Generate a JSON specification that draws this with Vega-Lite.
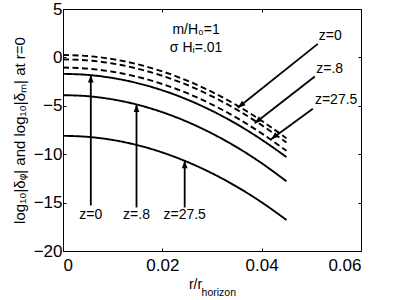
{
  "$schema": "https://vega.github.io/schema/vega-lite/v6.json",
  "width": 298,
  "height": 242,
  "autosize": {"type": "none"},
  "padding": {"left": 63, "top": 9, "right": 38, "bottom": 49},
  "background": "white",
  "config": {
    "view": {"stroke": null},
    "font": "Liberation Sans",
    "axis": {
      "domainColor": "black",
      "tickColor": "black",
      "labelColor": "black",
      "titleColor": "black",
      "labelFont": "Liberation Sans",
      "titleFont": "Liberation Sans",
      "labelFontSize": 17,
      "titleFontWeight": "normal",
      "grid": false,
      "tickSize": -3
    }
  },
  "datasets": {
    "curves": [
      {"quantity": "dphi", "z": "0", "x": 0, "y": 0.25},
      {"quantity": "dphi", "z": "0", "x": 0.005, "y": 0.14},
      {"quantity": "dphi", "z": "0", "x": 0.01, "y": -0.18},
      {"quantity": "dphi", "z": "0", "x": 0.015, "y": -0.71},
      {"quantity": "dphi", "z": "0", "x": 0.02, "y": -1.45},
      {"quantity": "dphi", "z": "0", "x": 0.025, "y": -2.40},
      {"quantity": "dphi", "z": "0", "x": 0.03, "y": -3.57},
      {"quantity": "dphi", "z": "0", "x": 0.035, "y": -4.95},
      {"quantity": "dphi", "z": "0", "x": 0.04, "y": -6.55},
      {"quantity": "dphi", "z": "0", "x": 0.045, "y": -8.35},
      {"quantity": "dphi", "z": ".8", "x": 0, "y": -0.2},
      {"quantity": "dphi", "z": ".8", "x": 0.005, "y": -0.31},
      {"quantity": "dphi", "z": ".8", "x": 0.01, "y": -0.63},
      {"quantity": "dphi", "z": ".8", "x": 0.015, "y": -1.16},
      {"quantity": "dphi", "z": ".8", "x": 0.02, "y": -1.90},
      {"quantity": "dphi", "z": ".8", "x": 0.025, "y": -2.85},
      {"quantity": "dphi", "z": ".8", "x": 0.03, "y": -4.02},
      {"quantity": "dphi", "z": ".8", "x": 0.035, "y": -5.40},
      {"quantity": "dphi", "z": ".8", "x": 0.04, "y": -7.00},
      {"quantity": "dphi", "z": ".8", "x": 0.045, "y": -8.80},
      {"quantity": "dphi", "z": "27.5", "x": 0, "y": -1.05},
      {"quantity": "dphi", "z": "27.5", "x": 0.005, "y": -1.16},
      {"quantity": "dphi", "z": "27.5", "x": 0.01, "y": -1.48},
      {"quantity": "dphi", "z": "27.5", "x": 0.015, "y": -2.01},
      {"quantity": "dphi", "z": "27.5", "x": 0.02, "y": -2.75},
      {"quantity": "dphi", "z": "27.5", "x": 0.025, "y": -3.70},
      {"quantity": "dphi", "z": "27.5", "x": 0.03, "y": -4.87},
      {"quantity": "dphi", "z": "27.5", "x": 0.035, "y": -6.25},
      {"quantity": "dphi", "z": "27.5", "x": 0.04, "y": -7.85},
      {"quantity": "dphi", "z": "27.5", "x": 0.045, "y": -9.65},
      {"quantity": "dm", "z": "0", "x": 0, "y": -1.7},
      {"quantity": "dm", "z": "0", "x": 0.005, "y": -1.81},
      {"quantity": "dm", "z": "0", "x": 0.01, "y": -2.13},
      {"quantity": "dm", "z": "0", "x": 0.015, "y": -2.66},
      {"quantity": "dm", "z": "0", "x": 0.02, "y": -3.40},
      {"quantity": "dm", "z": "0", "x": 0.025, "y": -4.35},
      {"quantity": "dm", "z": "0", "x": 0.03, "y": -5.52},
      {"quantity": "dm", "z": "0", "x": 0.035, "y": -6.90},
      {"quantity": "dm", "z": "0", "x": 0.04, "y": -8.50},
      {"quantity": "dm", "z": "0", "x": 0.045, "y": -10.30},
      {"quantity": "dm", "z": ".8", "x": 0, "y": -3.9},
      {"quantity": "dm", "z": ".8", "x": 0.005, "y": -4.01},
      {"quantity": "dm", "z": ".8", "x": 0.01, "y": -4.34},
      {"quantity": "dm", "z": ".8", "x": 0.015, "y": -4.89},
      {"quantity": "dm", "z": ".8", "x": 0.02, "y": -5.66},
      {"quantity": "dm", "z": ".8", "x": 0.025, "y": -6.65},
      {"quantity": "dm", "z": ".8", "x": 0.03, "y": -7.86},
      {"quantity": "dm", "z": ".8", "x": 0.035, "y": -9.28},
      {"quantity": "dm", "z": ".8", "x": 0.04, "y": -10.93},
      {"quantity": "dm", "z": ".8", "x": 0.045, "y": -12.8},
      {"quantity": "dm", "z": "27.5", "x": 0, "y": -8.1},
      {"quantity": "dm", "z": "27.5", "x": 0.005, "y": -8.21},
      {"quantity": "dm", "z": "27.5", "x": 0.01, "y": -8.53},
      {"quantity": "dm", "z": "27.5", "x": 0.015, "y": -9.07},
      {"quantity": "dm", "z": "27.5", "x": 0.02, "y": -9.82},
      {"quantity": "dm", "z": "27.5", "x": 0.025, "y": -10.79},
      {"quantity": "dm", "z": "27.5", "x": 0.03, "y": -11.97},
      {"quantity": "dm", "z": "27.5", "x": 0.035, "y": -13.36},
      {"quantity": "dm", "z": "27.5", "x": 0.04, "y": -14.97},
      {"quantity": "dm", "z": "27.5", "x": 0.045, "y": -16.8}
    ],
    "arrows": [
      {"side": "bottom", "z": "0", "x": 0.0056, "y": -15.3, "xend": 0.0056, "yend": -1.83},
      {"side": "bottom", "z": ".8", "x": 0.0148, "y": -15.5, "xend": 0.0148, "yend": -4.86},
      {"side": "bottom", "z": "27.5", "x": 0.0245, "y": -15.5, "xend": 0.0245, "yend": -10.68},
      {"side": "right", "z": "0", "x": 0.0513, "y": 1.4, "xend": 0.0352, "yend": -5.2},
      {"side": "right", "z": ".8", "x": 0.0507, "y": -1.97, "xend": 0.0386, "yend": -6.8},
      {"side": "right", "z": "27.5", "x": 0.0503, "y": -5.31, "xend": 0.0419, "yend": -8.45}
    ],
    "labels": [
      {"text": "z=0", "x": 0.0056, "y": -16.3},
      {"text": "z=.8", "x": 0.0148, "y": -16.3},
      {"text": "z=27.5", "x": 0.0245, "y": -16.3},
      {"text": "z=0", "x": 0.0538, "y": 2.26},
      {"text": "z=.8", "x": 0.0537, "y": -1.18},
      {"text": "z=27.5", "x": 0.0550, "y": -4.45}
    ],
    "notes": [
      {"text": "m/H₀=1", "x": 0.0268, "y": 2.88},
      {"text": "σ Hᵢ=.01", "x": 0.0268, "y": 0.99}
    ],
    "sub": [
      {"text": "horizon", "x": 0.0279, "y": -24.6}
    ]
  },
  "layer": [
    {
      "data": {"name": "curves"},
      "mark": {"type": "line", "color": "black", "strokeWidth": 1.9, "interpolate": "monotone"},
      "encoding": {
        "x": {"field": "x", "type": "quantitative",
              "scale": {"domain": [0, 0.06], "nice": false, "zero": false},
              "axis": {"orient": "bottom", "values": [0, 0.02, 0.04, 0.06], "format": "~g",
                       "labelPadding": 9, "title": "r/r", "titleFontSize": 14,
                       "titleX": 132, "titleY": 37, "titleBaseline": "alphabetic", "titleAlign": "center"}},
        "y": {"field": "y", "type": "quantitative",
              "scale": {"domain": [-20, 5], "nice": false, "zero": false},
              "axis": {"orient": "left", "values": [-20, -15, -10, -5, 0, 5], "format": "~g",
                       "labelPadding": 4, "title": "log₁₀|δᵩ| and log₁₀|δₘ| at r=0",
                       "titleFontSize": 15, "titlePadding": 6}},
        "detail": {"field": "z", "type": "nominal"},
        "strokeDash": {"field": "quantity", "type": "nominal",
                       "scale": {"domain": ["dphi", "dm"], "range": [[6, 3.5], [1, 0]]},
                       "legend": null}
      }
    },
    {
      "data": {"name": "notes"},
      "mark": {"type": "text", "fontSize": 14, "color": "black", "align": "center", "baseline": "middle"},
      "encoding": {
        "x": {"field": "x", "type": "quantitative",
              "scale": {"domain": [0, 0.06], "nice": false, "zero": false},
              "axis": {"orient": "top", "values": [0, 0.02, 0.04, 0.06], "labels": false, "title": null}},
        "y": {"field": "y", "type": "quantitative",
              "scale": {"domain": [-20, 5], "nice": false, "zero": false},
              "axis": {"orient": "right", "values": [-20, -15, -10, -5, 0, 5], "labels": false, "title": null}},
        "text": {"field": "text", "type": "nominal"}
      }
    },
    {
      "data": {"name": "arrows"},
      "mark": {"type": "rule", "color": "black", "strokeWidth": 1.8},
      "encoding": {
        "x": {"field": "x", "type": "quantitative", "axis": null},
        "y": {"field": "y", "type": "quantitative", "axis": null},
        "x2": {"field": "xend"},
        "y2": {"field": "yend"}
      }
    },
    {
      "data": {"name": "arrows"},
      "transform": [{"filter": "datum.side == 'bottom'"}],
      "mark": {"type": "point", "shape": "M0,0L-0.38,1L0.38,1Z", "filled": true, "color": "black", "opacity": 1, "size": 225, "angle": 0},
      "encoding": {
        "x": {"field": "xend", "type": "quantitative", "axis": null},
        "y": {"field": "yend", "type": "quantitative", "axis": null}
      }
    },
    {
      "data": {"name": "arrows"},
      "transform": [{"filter": "datum.side == 'right'"}],
      "mark": {"type": "point", "shape": "M0,0L-0.38,1L0.38,1Z", "filled": true, "color": "black", "opacity": 1, "size": 225, "angle": 232},
      "encoding": {
        "x": {"field": "xend", "type": "quantitative", "axis": null},
        "y": {"field": "yend", "type": "quantitative", "axis": null}
      }
    },
    {
      "data": {"name": "labels"},
      "mark": {"type": "text", "fontSize": 14, "color": "black", "align": "center", "baseline": "middle"},
      "encoding": {
        "x": {"field": "x", "type": "quantitative", "axis": null},
        "y": {"field": "y", "type": "quantitative", "axis": null},
        "text": {"field": "text", "type": "nominal"}
      }
    },
    {
      "data": {"name": "sub"},
      "mark": {"type": "text", "fontSize": 10.5, "color": "black", "align": "left", "baseline": "alphabetic"},
      "encoding": {
        "x": {"field": "x", "type": "quantitative", "axis": null},
        "y": {"field": "y", "type": "quantitative", "axis": null},
        "text": {"field": "text", "type": "nominal"}
      }
    }
  ],
  "resolve": {"axis": {"x": "independent", "y": "independent"}}
}
